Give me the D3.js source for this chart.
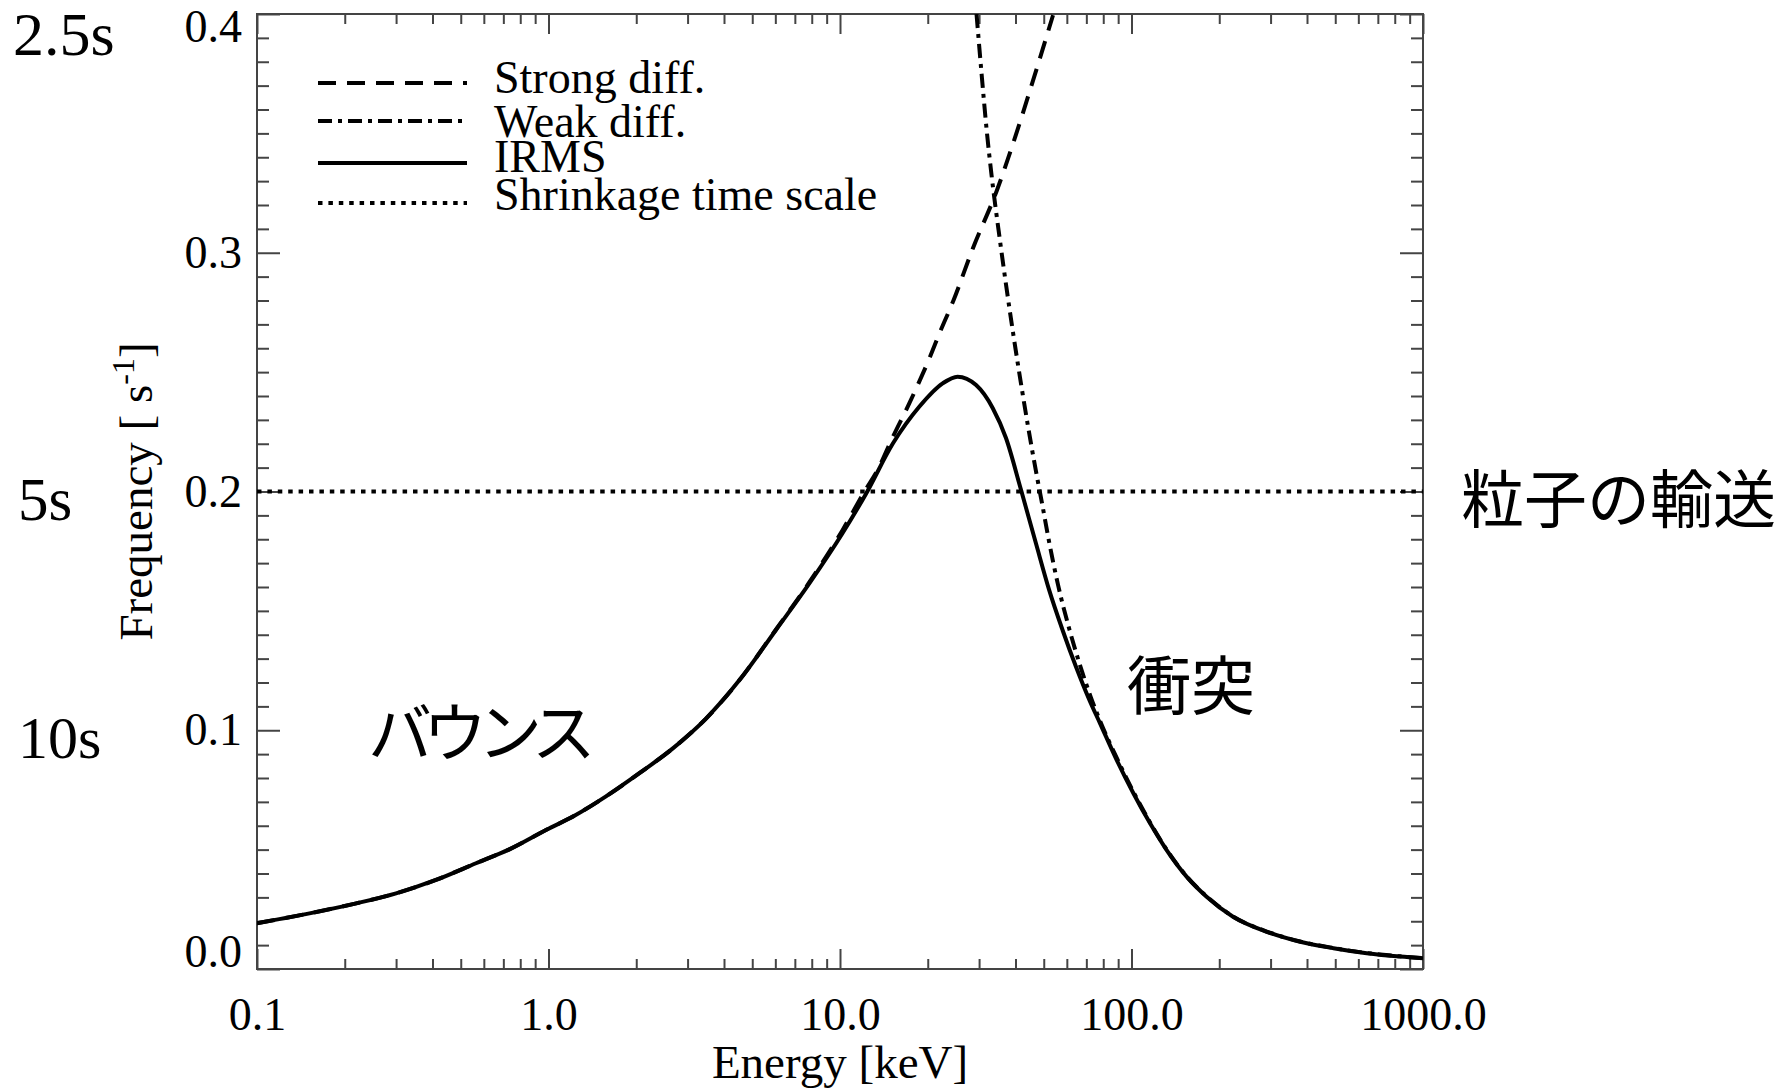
<!DOCTYPE html>
<html><head><meta charset="utf-8">
<script src="https://cdn.jsdelivr.net/npm/d3@7"></script>
<style>
html,body{margin:0;padding:0;background:#fff;}
svg{display:block;}
</style></head><body>
<svg id="chart" width="1787" height="1091"></svg>
<script>
// ---------------- data ----------------
const irmsEnergy = [0.1, 0.147, 0.219, 0.30, 0.411, 0.564, 0.734, 0.98, 1.24, 1.57, 2.05, 2.67, 3.47, 4.52, 6.03, 7.85, 10.2, 12.3, 15.2, 18.7, 22.5, 25.3, 29.3, 33.4, 37.1, 41.8, 47.0, 52.2, 58.0, 64.5, 71.7, 78.0, 89.0, 101.5, 115.8, 132, 154.5, 181, 223, 291, 379, 493, 641, 834, 1000];
const irmsFreq   = [0.0192, 0.0230, 0.0275, 0.0317, 0.0373, 0.0443, 0.0501, 0.0582, 0.0645, 0.0722, 0.0820, 0.0924, 0.1049, 0.1210, 0.1420, 0.1615, 0.1825, 0.1992, 0.2202, 0.2355, 0.2453, 0.2481, 0.2446, 0.2350, 0.2224, 0.2006, 0.1783, 0.1587, 0.1420, 0.1266, 0.1127, 0.1029, 0.0875, 0.0736, 0.0610, 0.0498, 0.0387, 0.0303, 0.0219, 0.0156, 0.0114, 0.0087, 0.0066, 0.0052, 0.0045];

const strongEnergy = [0.1, 0.147, 0.219, 0.30, 0.411, 0.564, 0.734, 0.98, 1.24, 1.57, 2.05, 2.67, 3.47, 4.52, 6.03, 7.85, 10.2, 12.3, 13.4, 15.2, 17.3, 18.7, 20.3, 21.9, 24.5, 28.6, 34.5, 39.3, 45.9, 53.8];
const strongFreq   = [0.0192, 0.0230, 0.0275, 0.0317, 0.0373, 0.0443, 0.0501, 0.0582, 0.0645, 0.0722, 0.0820, 0.0924, 0.1049, 0.1210, 0.1422, 0.1620, 0.1838, 0.2012, 0.2086, 0.2230, 0.2370, 0.2460, 0.2560, 0.2660, 0.2800, 0.3020, 0.3260, 0.3460, 0.3720, 0.3995];

const weakEnergy = [29.4, 30.6, 31.9, 33.1, 35.4, 37.3, 39.2, 42.0, 44.2, 47.0, 49.6, 51.7, 56.0, 61.3, 66.4, 72.5, 78.0, 89.0, 101.5, 115.8, 132, 154.5, 181, 223, 291, 379, 493, 641, 834, 1000];
const weakFreq   = [0.4000, 0.3749, 0.3506, 0.3326, 0.3049, 0.2848, 0.2668, 0.2434, 0.2270, 0.2086, 0.1935, 0.1814, 0.1608, 0.1420, 0.1277, 0.1139, 0.1039, 0.0884, 0.0742, 0.0614, 0.0500, 0.0388, 0.0304, 0.0220, 0.0157, 0.0115, 0.0088, 0.0067, 0.0053, 0.0046];

const shrinkEnergy = [0.1, 1000];
const shrinkFreq   = [0.2, 0.2];

const xTickValues = [0.1, 1, 10, 100, 1000];
const xTickLabels = ["0.1", "1.0", "10.0", "100.0", "1000.0"];
const yTickValues = [0, 0.1, 0.2, 0.3, 0.4];
const yTickLabels = ["0.0", "0.1", "0.2", "0.3", "0.4"];
const legendLabels = ["Strong diff.", "Weak diff.", "IRMS", "Shrinkage time scale"];
const timeLabels = ["2.5s", "5s", "10s"];
const regionLabels = ["バウンス", "衝突", "粒子の輸送"];

// ---------------- layout ----------------
const L = 257, R = 1423, T = 14, B = 969;
const serif = '"Liberation Serif","Times New Roman",Times,serif';
const cjk = '"Noto Sans CJK JP","Noto Sans CJK SC",sans-serif';
const axisColor = '#444';

const x = d3.scaleLog().domain([0.1, 1000]).range([L, R]);
const y = d3.scaleLinear().domain([0, 0.4]).range([B, T]);

const svg = d3.select('#chart');
svg.append('rect').attr('width', 1787).attr('height', 1091).attr('fill', '#fff');

const defs = svg.append('defs');
defs.append('clipPath').attr('id', 'plotclip').append('rect')
  .attr('x', L).attr('y', T).attr('width', R - L).attr('height', B - T);

// minor tick positions
const minorX = [];
[0.1, 1, 10, 100].forEach(d => { for (let k = 2; k <= 9; k++) minorX.push(d * k); });
const minorY = d3.range(1, 40).filter(i => i % 10 !== 0).map(i => i / 100);

function styleAxis(g) {
  g.select('.domain').remove();
  g.selectAll('line').attr('stroke', axisColor).attr('stroke-width', 2);
}

// bottom
svg.append('g').attr('transform', `translate(0,${B})`)
  .call(d3.axisBottom(x).tickValues(minorX).tickSize(-10).tickFormat(''))
  .call(styleAxis);
const bottomMajor = svg.append('g').attr('transform', `translate(0,${B})`)
  .call(d3.axisBottom(x).tickValues(xTickValues).tickSize(-20).tickPadding(28)
    .tickFormat(d => xTickLabels[xTickValues.indexOf(d)]))
  .call(styleAxis);
bottomMajor.selectAll('text').attr('font-family', serif).attr('font-size', 46).attr('fill', '#000');

// top
svg.append('g').attr('transform', `translate(0,${T})`)
  .call(d3.axisTop(x).tickValues(minorX).tickSize(-10).tickFormat(''))
  .call(styleAxis);
svg.append('g').attr('transform', `translate(0,${T})`)
  .call(d3.axisTop(x).tickValues(xTickValues).tickSize(-20).tickFormat(''))
  .call(styleAxis);

// left
svg.append('g').attr('transform', `translate(${L},0)`)
  .call(d3.axisLeft(y).tickValues(minorY).tickSize(-12).tickFormat(''))
  .call(styleAxis);
const leftMajor = svg.append('g').attr('transform', `translate(${L},0)`)
  .call(d3.axisLeft(y).tickValues(yTickValues).tickSize(-23).tickPadding(15)
    .tickFormat(d => yTickLabels[yTickValues.indexOf(d)]))
  .call(styleAxis);
leftMajor.selectAll('text').attr('font-family', serif).attr('font-size', 46).attr('fill', '#000')
  .attr('y', d => d === 0.4 ? 13 : (d === 0 ? -17 : 0));

// right
svg.append('g').attr('transform', `translate(${R},0)`)
  .call(d3.axisRight(y).tickValues(minorY).tickSize(-12).tickFormat(''))
  .call(styleAxis);
svg.append('g').attr('transform', `translate(${R},0)`)
  .call(d3.axisRight(y).tickValues(yTickValues).tickSize(-23).tickFormat(''))
  .call(styleAxis);

// frame
svg.append('rect').attr('x', L).attr('y', T).attr('width', R - L).attr('height', B - T)
  .attr('fill', 'none').attr('stroke', axisColor).attr('stroke-width', 2);

// axis titles
svg.append('text').attr('x', (L + R) / 2).attr('y', 1078).attr('text-anchor', 'middle')
  .attr('font-family', serif).attr('font-size', 47).attr('fill', '#000').text('Energy [keV]');

const yt = svg.append('text').attr('transform', `translate(152,${(T + B) / 2}) rotate(-90)`)
  .attr('text-anchor', 'middle').attr('font-family', serif).attr('font-size', 47).attr('fill', '#000');
yt.append('tspan').text('Frequency [ s');
yt.append('tspan').attr('font-size', 32).attr('dy', -18).text('-1');
yt.append('tspan').attr('dy', 18).text(']');

// ---------------- series ----------------
const series = [
  { e: strongEnergy, f: strongFreq, dash: '18,11' },
  { e: weakEnergy, f: weakFreq, dash: '14,6,4,6' },
  { e: irmsEnergy, f: irmsFreq, dash: null },
  { e: shrinkEnergy, f: shrinkFreq, dash: '4.5,5.9' }
];
const line = d3.line().x(d => x(d[0])).y(d => y(d[1])).curve(d3.curveMonotoneX);
const plot = svg.append('g').attr('clip-path', 'url(#plotclip)');
series.forEach(s => {
  const pts = s.e.map((e, i) => [e, s.f[i]]);
  plot.append('path').datum(pts).attr('d', line)
    .attr('fill', 'none').attr('stroke', '#000').attr('stroke-width', 4)
    .attr('stroke-linejoin', 'round')
    .attr('stroke-dasharray', s.dash);
});

// ---------------- legend ----------------
const legendLineY = [83, 121, 163, 203];
const legendTextY = [93, 137, 172, 210];
const lg = svg.append('g');
series.forEach((s, i) => {
  lg.append('line').attr('x1', 318).attr('x2', 467).attr('y1', legendLineY[i]).attr('y2', legendLineY[i])
    .attr('stroke', '#000').attr('stroke-width', 4).attr('stroke-dasharray', s.dash);
  lg.append('text').attr('x', 494).attr('y', legendTextY[i])
    .attr('font-family', serif).attr('font-size', 46).attr('fill', '#000').text(legendLabels[i]);
});

// ---------------- annotations ----------------
const timePos = [[13, 55, 62], [18, 520, 61], [18, 758, 60]];
timeLabels.forEach((t, i) => {
  svg.append('text').attr('x', timePos[i][0]).attr('y', timePos[i][1])
    .attr('font-family', serif).attr('font-size', timePos[i][2]).attr('fill', '#000').text(t);
});
const regionPos = [[368, 756, -9, 64], [1127, 709, 0, 64], [1461, 522, 0, 63]];
regionLabels.forEach((t, i) => {
  svg.append('text').attr('x', regionPos[i][0]).attr('y', regionPos[i][1])
    .attr('font-family', cjk).attr('font-size', regionPos[i][3]).attr('letter-spacing', regionPos[i][2])
    .attr('fill', '#000').text(t);
});
</script>
</body></html>
